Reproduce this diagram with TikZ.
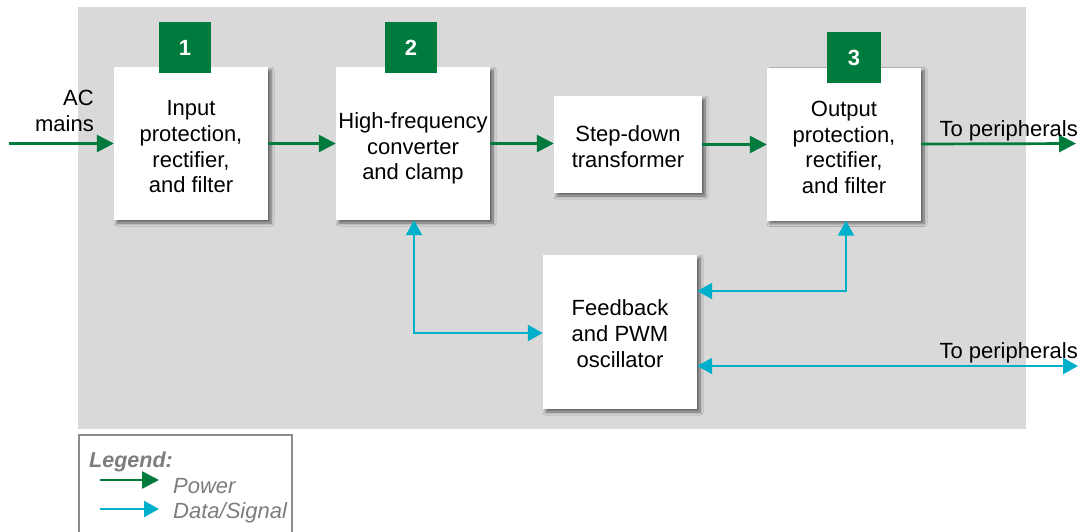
\documentclass[tikz,border=0pt]{standalone}
\usepackage{fontspec}
\setmainfont{Liberation Sans}
\usetikzlibrary{arrows.meta,shadows.blur,calc}
\definecolor{pgreen}{RGB}{0,122,61}
\definecolor{sblue}{RGB}{0,176,202}
\definecolor{bggray}{RGB}{217,217,217}
\definecolor{leggray}{RGB}{125,125,125}
\definecolor{legborder}{RGB}{140,140,140}
\newcommand\txtpush[1]{\rule{0pt}{#1pt}}
\tikzset{
  blk/.style={fill=white, inner sep=0pt, align=center, font=\fontsize{22}{25.7}\selectfont,
    minimum width=154pt, minimum height=153pt,
    blur shadow={shadow xshift=3pt, shadow yshift=-3pt, shadow blur radius=3pt, shadow blur steps=6, shadow opacity=55}},
  badge/.style={fill=pgreen, text=white, inner sep=0pt, minimum width=52pt, minimum height=51pt,
    font=\fontsize{22}{25}\selectfont\bfseries},
  pw/.style={draw=pgreen, line width=2.7pt, -{Triangle[length=17pt,width=17pt]}},
  sig/.style={draw=sblue, line width=2.2pt, {Triangle[length=15pt,width=16pt]}-{Triangle[length=15pt,width=16pt]}},
  sigone/.style={draw=sblue, line width=2.2pt, -{Triangle[length=15pt,width=16pt]}},
  lbl/.style={inner sep=0pt, font=\fontsize{22}{25.7}\selectfont},
  legtxt/.style={inner sep=0pt, text=leggray, font=\fontsize{22}{24}\selectfont\itshape}
}
\begin{document}
\begin{tikzpicture}[x=1pt,y=-1pt]
\useasboundingbox (0,0) rectangle (1082,531);
\fill[bggray] (78,7) rectangle (1026,429);
% blocks
\node[blk] (in) at (191,143.5) {\txtpush{22}Input\\protection,\\rectifier,\\and filter};
\node[blk] (hf) at (413,143.5) {\txtpush{26}High-frequency\\converter\\and clamp};
\node[blk, minimum width=148pt, minimum height=97pt] (sd) at (628,144.5) {\txtpush{20}Step-down\\transformer};
\node[blk] (out) at (844,144) {\txtpush{22}Output\\protection,\\rectifier,\\and filter};
\node[blk, minimum height=154pt] (fb) at (620,332) {\txtpush{19}Feedback\\and PWM\\oscillator};
% badges
\node[badge] (b1) at (185,47.5) {1};
\node[badge] (b2) at (411,47.5) {2};
\node[badge, minimum width=54pt] (b3) at (854,57.5) {3};
% coordinates
\coordinate (ac) at (9,143.5);
\coordinate (per1) at (1076,143.5);
\coordinate (per2) at (1078,366);
% power arrows
\draw[pw] (ac) -- (in.west);
\draw[pw] (in.east) -- (hf.west);
\draw[pw] (hf.east) -- (sd.west |- hf.east);
\draw[pw] (sd.east) -- (out.west |- sd.east);
\draw[pw] (out.east) -- (per1);
% signal arrows
\draw[sig] ([xshift=1pt]hf.south) |- ([yshift=-1pt]fb.west);
\draw[sig] ([xshift=2pt]out.south) |- ([yshift=41pt]fb.east);
\draw[sig] ([yshift=-34pt]fb.east) -- (per2);
% labels
\node[lbl, anchor=east, align=right] (acl) at (94,111) {AC\\mains};
\node[lbl, anchor=base east] (tp1) at (1078,136) {To peripherals};
\node[lbl, anchor=base east] (tp2) at (1078,358) {To peripherals};
% legend
\draw[legborder, line width=1.5pt] (79,545) -- (79,435) -- (292,435) -- (292,545);
\node[inner sep=0pt, anchor=base west, text=leggray, font=\fontsize{21.5}{24}\selectfont\bfseries\itshape] (lg) at (89,467) {Legend:};
\coordinate (l1a) at (100,480);
\coordinate (l1b) at (159,480);
\coordinate (l2a) at (100,509);
\coordinate (l2b) at (159,509);
\draw[pw] (l1a) -- (l1b);
\draw[sigone] (l2a) -- (l2b);
\node[legtxt, anchor=base west] (lp) at (173,493) {Power};
\node[legtxt, anchor=base west] (ld) at (173,518) {Data/Signal};
\end{tikzpicture}
\end{document}
